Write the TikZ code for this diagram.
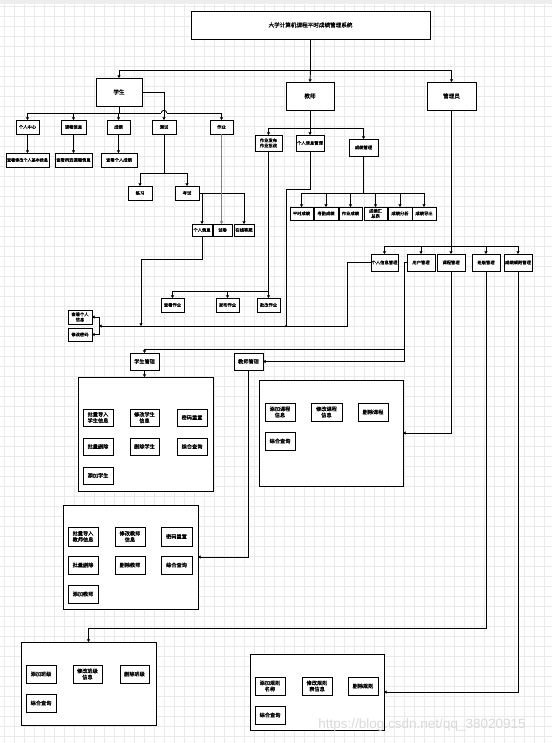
\documentclass[tikz,border=0pt]{standalone}
\usepackage{fontspec}
\setmainfont{Noto Sans CJK SC}[FakeBold=0.6]
\newfontfamily\wmfont{Liberation Sans}
\usetikzlibrary{arrows.meta}
\definecolor{gridc}{RGB}{234,234,234}
\tikzset{
  bx/.style={draw, line width=0.9pt, inner sep=0pt, outer sep=0pt, align=center, fill=white,
    font=\fontsize{4.3}{5.2}\selectfont},
  mid/.style={font=\fontsize{5.2}{6.2}\selectfont},
  big/.style={font=\fontsize{5.6}{6.6}\selectfont},
  ln/.style={line width=0.9pt},
  arr/.style={line width=0.9pt, -{Triangle[length=2.6pt,width=3pt]}},
}
\newcommand\mybox[7][]{\node[bx,#1,minimum width={#5-#3},minimum height={#6-#4}] (#2) at ({(#3+#5)/2},{(#4+#6)/2}) {#7};}
\begin{document}
\begin{tikzpicture}[x=1pt,y=-1pt]
\useasboundingbox (0,0) rectangle (552,743);
% background grid
\fill[white] (0,0) rectangle (552,743);
\foreach \i in {4,14,...,552} \draw[gridc,line width=0.5pt] (\i,0) -- (\i,743);
\foreach \j in {6,16,...,743} \draw[gridc,line width=0.5pt] (0,\j) -- (552,\j);
\fill[gray!14] (0,0) rectangle (552,4);

% top level
\mybox[big]{tt}{191}{11}{430}{39}{大学计算机课程平时成绩管理系统}
\mybox[big]{stu}{96}{78}{142}{106}{学生}
\mybox[big]{tea}{286}{82}{334}{110}{教师}
\mybox[big]{adm}{427}{82}{476}{110}{管理员}
\coordinate (j0) at (310.5,70);
\draw[ln] (tt.south) -- (j0);
\draw[arr] (j0) -| (stu.north);
\draw[arr] (j0) -- (tea.north);
\draw[arr] (j0) -| (adm.north);

% student branch
\mybox{s1}{16}{120}{39}{134}{个人中心}
\mybox{s2}{61}{120}{86}{134}{课程信息}
\mybox{s3}{107}{120}{130}{134}{成绩}
\mybox{s4}{152}{120}{176}{134}{测试}
\mybox{s5}{210}{120}{233}{134}{作业}
\coordinate (sj) at (119,113);
\draw[ln] (stu.south) -- (sj);
\draw[arr] (sj) -| (s1.north);
\draw[arr] (sj) -| (s2.north);
\draw[arr] (sj) -| (s3.north);
\draw[arr] (sj) -| (s5.north);
\draw[arr] (stu.east) -| (s4.north);
% line hop
\draw[white, line width=1.6pt] (161.3,113) -- (166.7,113);
\draw[ln] (164,109) -- (164,117);
\draw[ln] (161.3,113) arc (180:360:2.7);
\mybox[font=\fontsize{4.1}{5}\selectfont]{g1}{6}{153}{49}{167}{查看修改个人基本信息}
\mybox{g2}{55}{153}{92}{167}{查看所选课程信息}
\mybox{g3}{101}{153}{137}{167}{查看个人成绩}
\draw[arr] (s1.south) -- (g1.north);
\draw[arr] (s2.south) -- (g2.north);
\draw[arr] (s3.south) -- (s3.south |- g3.north);
\mybox{p1}{128}{186}{152}{200}{练习}
\mybox{p2}{175}{186}{199}{200}{考试}
\coordinate (s4j) at (164,173);
\draw[ln] (s4.south) -- (s4j);
\draw[arr] (s4j) -| (p1.north);
\draw[arr] (s4j) -| (p2.north);
\mybox{q1}{192}{224}{212}{236}{个人信息}
\mybox{q2}{213}{224}{232}{236}{试卷}
\mybox{q3}{234}{224}{254}{236}{在线答题}
\draw[arr] (p2.east) -| (q1.north);
\draw[arr] (p2.east) -| (q3.north);
\draw[arr,gray] (s5.south) -- (s5.south |- q2.north);

% left small nodes
\mybox{lm1}{68}{310}{92}{324}{查看个人\\信息}
\mybox{lm2}{68}{328}{92}{341}{修改密码}
\coordinate (bk) at (99,326);
\draw[arr] (bk) |- (lm1.east);
\draw[arr] (bk) |- (lm2.east);
\coordinate (qa) at (141,259);
\coordinate (qb) at (141,326);
\draw[arr] (q1.south) |- (qa) -- (qb);

% teacher branch
\mybox{t1}{255}{135}{282}{151}{作业发布\\作业批改}
\mybox{t2}{296}{135}{324}{151}{个人信息管理}
\mybox{t3}{349}{139}{378}{156}{成绩管理}
\coordinate (tj) at (310,128);
\draw[ln] (tea.south) -- (tj);
\draw[arr] (tj) -| (t1.north);
\draw[arr] (tj) -- (t2.north);
\draw[arr] (tj) -| (t3.north);
\mybox{tc1}{161}{298}{184}{312}{查看作业}
\mybox{tc2}{216}{298}{239}{312}{发布作业}
\mybox{tc3}{257}{298}{280}{312}{批改作业}
\coordinate (t1j) at (268.5,291);
\draw[ln] (t1.south) -- (t1j);
\draw[arr] (t1j) -| (tc1.north);
\draw[arr] (t1j) -| (tc2.north);
\draw[arr] (t1j) -- (tc3.north);
\mybox{r1}{290}{207}{313}{220}{平时成绩}
\mybox{r2}{314}{207}{338}{220}{考勤成绩}
\mybox{r3}{339}{207}{362}{220}{作业成绩}
\mybox{r4}{364}{207}{387}{220}{成绩汇\\总表}
\mybox{r5}{388}{207}{412}{220}{成绩分析}
\mybox{r6}{412}{207}{436}{220}{成绩导出}
\coordinate (t3j) at (363.5,193);
\draw[ln] (t3.south) -- (t3j);
\foreach \r in {r1,r2,r3,r4,r5,r6} \draw[arr] (t3j) -| (\r.north);
\coordinate (t2a) at (286,189);
\coordinate (t2b) at (286,326);
\draw[ln] (t2.south) |- (t2a) -- (t2b);
\fill (t2b) circle (1.1pt);

% admin branch
\mybox{a1}{371}{254}{398}{271}{个人信息管理}
\mybox{a2}{407}{254}{435}{271}{用户管理}
\mybox{a3}{437}{254}{465}{271}{课程管理}
\mybox{a4}{472}{254}{500}{271}{班级管理}
\mybox{a5}{504}{254}{532}{271}{成绩规则管理}
\coordinate (aj) at (451.5,246);
\draw[ln] (adm.south) -- (aj);
\foreach \a in {a1,a2,a3,a4,a5} \draw[arr] (aj) -| (\a.north);
\coordinate (a1c) at (347,326);
\draw[arr] (a1.west) -| (a1c) -- (bk);

% management nodes
\mybox[mid]{sm}{130}{353}{159}{370}{学生管理}
\mybox[mid]{tm}{234}{353}{263}{370}{教师管理}
\coordinate (a2c) at (404,349);
\draw[arr] (a2.west) -| (a2c) -| (sm.north);
\draw[arr] (a2c) |- (tm.east);

% student management box
\mybox{sbox}{78}{377}{213}{491}{}
\draw[arr] (sm.south) -- (sm.south |- sbox.north);
\mybox[mid]{sb1}{83}{409}{113}{426}{批量导入\\学生信息}
\mybox[mid]{sb2}{130}{409}{159}{426}{修改学生\\信息}
\mybox[mid]{sb3}{177}{409}{207}{426}{密码重置}
\mybox[mid]{sb4}{83}{438}{113}{455}{批量删除}
\mybox[mid]{sb5}{130}{438}{159}{455}{删除学生}
\mybox[mid]{sb6}{177}{438}{207}{455}{综合查询}
\mybox[mid]{sb7}{83}{467}{113}{484}{添加学生}

% course box
\mybox{cbox}{259}{380}{403}{486}{}
\draw[arr] (a3.south) |- (cbox.east);
\mybox[mid]{cb1}{265}{403}{295}{421}{添加课程\\信息}
\mybox[mid]{cb2}{311}{403}{342}{421}{修改课程\\信息}
\mybox[mid]{cb3}{358}{403}{388}{421}{删除课程}
\mybox[mid]{cb4}{265}{432}{295}{450}{综合查询}

% teacher management box
\mybox{tbox}{63}{505}{198}{609}{}
\draw[arr] (tm.south) |- (tbox.east);
\mybox[mid]{tb1}{68}{527}{98}{546}{批量导入\\教师信息}
\mybox[mid]{tb2}{115}{527}{145}{546}{修改教师\\信息}
\mybox[mid]{tb3}{161}{527}{192}{546}{密码重置}
\mybox[mid]{tb4}{68}{556}{98}{574}{批量删除}
\mybox[mid]{tb5}{115}{556}{145}{574}{删除教师}
\mybox[mid]{tb6}{161}{556}{192}{574}{综合查询}
\mybox[mid]{tb7}{68}{585}{98}{603}{添加教师}

% class box
\mybox{bl}{21}{642}{156}{725}{}
\coordinate (a4c) at (88.5,628);
\draw[arr] (a4.south) |- (a4c) -- (bl.north);
\mybox[mid]{bl1}{26}{665}{56}{683}{添加班级}
\mybox[mid]{bl2}{73}{665}{102}{683}{修改班级\\信息}
\mybox[mid]{bl3}{120}{665}{149}{683}{删除班级}
\mybox[mid]{bl4}{26}{694}{56}{712}{综合查询}

% rule box
\mybox{br}{250}{654}{384}{730}{}
\draw[arr] (a5.south) |- (br.east);
\mybox[mid]{br1}{255}{677}{285}{695}{添加规则\\名称}
\mybox[mid]{br2}{302}{677}{332}{695}{修改规则\\表信息}
\mybox[mid]{br3}{348}{677}{378}{695}{删除规则}
\mybox[mid]{br4}{255}{706}{285}{724}{综合查询}

% watermark
\node[text=gray!30, font=\wmfont\fontsize{13.5}{14}\selectfont, anchor=center] (wm) at (422,725) {https://blog.csdn.net/qq\_38020915};
\end{tikzpicture}
\end{document}
